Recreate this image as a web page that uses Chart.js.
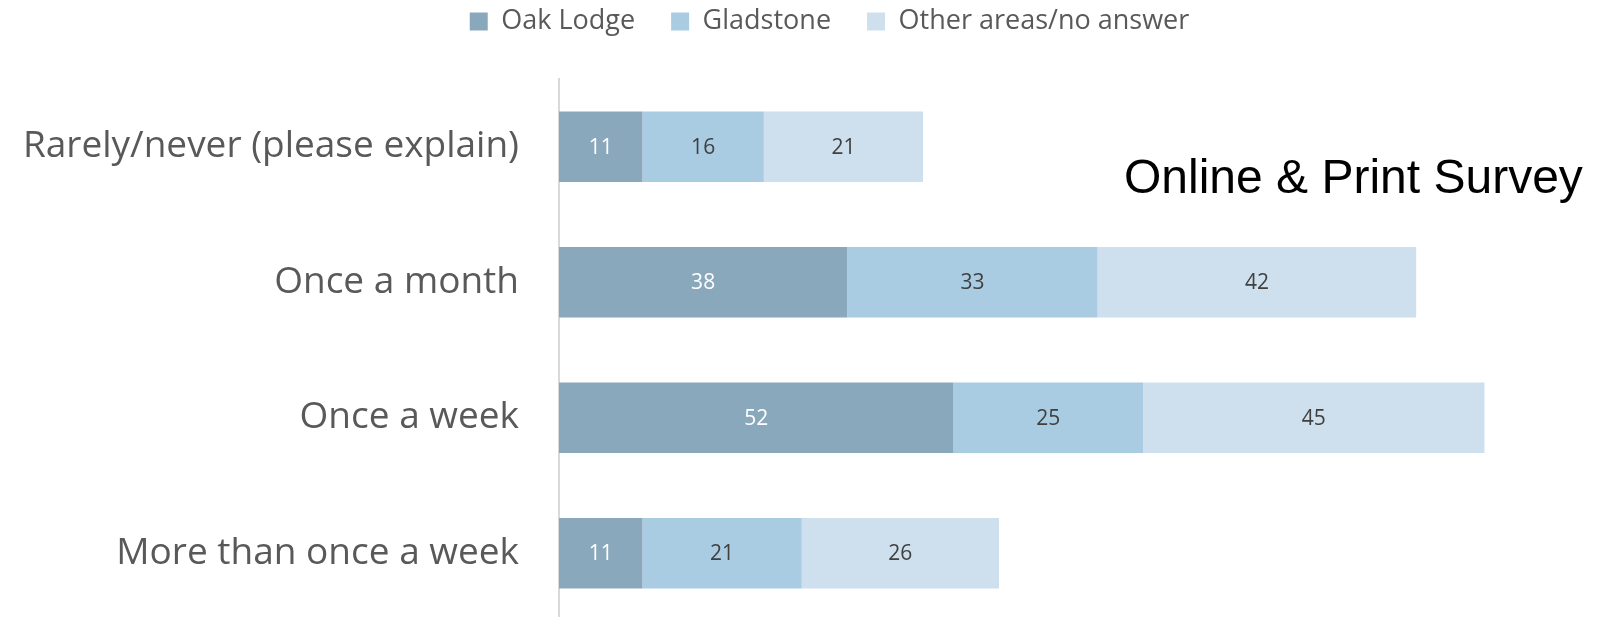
<!DOCTYPE html>
<html>
<head>
<meta charset="utf-8">
<script src="https://cdn.jsdelivr.net/npm/chart.js@4.4.1/dist/chart.umd.min.js"></script>
<style>
  html, body { margin: 0; padding: 0; background: #fff; overflow: hidden; }
  #wrap { position: relative; width: 1621px; height: 621px; }
</style>
</head>
<body>
<div id="wrap"><canvas id="myBarChart"></canvas></div>
<script>
// categories and series
var categories = ["Rarely/never (please explain)", "Once a month", "Once a week", "More than once a week"];
var oakLodge = [11, 38, 52, 11];
var gladstone = [16, 33, 25, 21];
var otherAreas = [21, 42, 45, 26];
var seriesNames = ["Oak Lodge", "Gladstone", "Other areas/no answer"];
var chartTitle = "Online & Print Survey";

// numbers written in the middle of each bar piece
var barLabels = {
  id: "barLabels",
  afterDatasetsDraw: function (chart) {
    var ctx = chart.ctx;
    ctx.save();
    ctx.font = "21px 'Open Sans'";
    ctx.textAlign = "center";
    ctx.textBaseline = "middle";
    chart.data.datasets.forEach(function (ds, i) {
      var meta = chart.getDatasetMeta(i);
      ctx.fillStyle = i === 0 ? "#ffffff" : "#404040";
      meta.data.forEach(function (bar, j) {
        var p = bar.getProps(["x", "y", "base"], true);
        ctx.fillText(ds.data[j], (p.x + p.base) / 2, p.y + 1);
      });
    });
    ctx.restore();
  }
};

// big title sitting inside the plot on the right
var sideTitle = {
  id: "sideTitle",
  afterDraw: function (chart) {
    var ctx = chart.ctx;
    ctx.save();
    ctx.font = "48px 'Liberation Sans', Arial, sans-serif";
    ctx.fillStyle = "#000000";
    ctx.textAlign = "left";
    ctx.textBaseline = "alphabetic";
    ctx.fillText(chartTitle, 1124, 193);
    ctx.restore();
  }
};

var ctx = document.getElementById("myBarChart");
var myBarChart = new Chart(ctx, {
  type: "bar",
  data: {
    labels: categories,
    datasets: [
      { label: seriesNames[0], data: oakLodge, backgroundColor: "#8aa8bc" },
      { label: seriesNames[1], data: gladstone, backgroundColor: "#a9cce3" },
      { label: seriesNames[2], data: otherAreas, backgroundColor: "#cee0ee" }
    ]
  },
  options: {
    indexAxis: "y",
    responsive: true,
    maintainAspectRatio: false,
    animation: false,
    categoryPercentage: 0.52,
    barPercentage: 1,
    // right padding pushed past the edge so the legend sits a bit right of centre
    layout: { padding: { left: 0, right: -38, top: -28, bottom: 0 } },
    plugins: {
      legend: {
        position: "top",
        labels: {
          boxWidth: 18,
          boxHeight: 18,
          padding: 36,
          color: "#595959",
          font: { family: "'Open Sans'", size: 27 }
        }
      },
      tooltip: { enabled: false }
    },
    scales: {
      x: {
        stacked: true,
        position: "top",
        min: 0,
        max: 140,
        grid: { display: false },
        border: { display: false },
        ticks: { display: false },
        afterFit: function (scale) { scale.height = 34; }
      },
      y: {
        stacked: true,
        grid: { display: false, drawTicks: false },
        border: { display: true, color: "#d9d9d9", width: 2 },
        ticks: {
          padding: 40,
          color: "#595959",
          font: { family: "'Open Sans'", size: 37 }
        },
        afterFit: function (scale) {
          scale.width = 559;
          scale.paddingTop = 0;
          scale.paddingBottom = 0;
        }
      }
    }
  },
  plugins: [barLabels, sideTitle]
});
</script>
</body>
</html>
